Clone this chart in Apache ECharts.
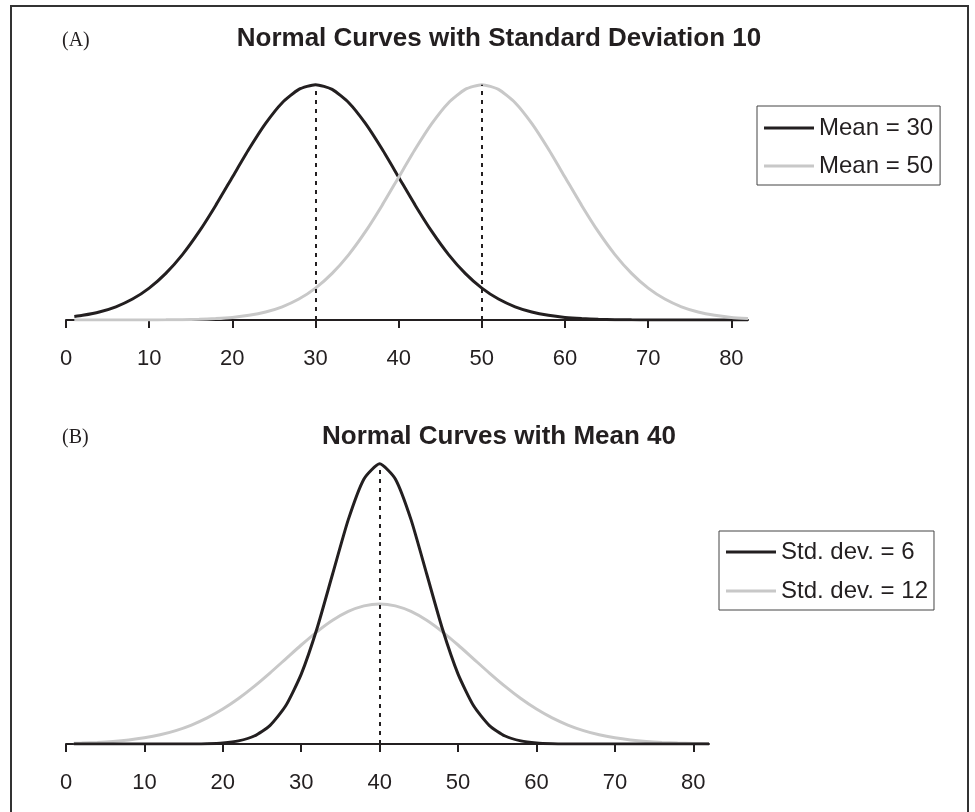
<!DOCTYPE html>
<html>
<head>
<meta charset="utf-8">
<script src="https://cdn.jsdelivr.net/npm/echarts@6/dist/echarts.min.js"></script>
<style>
  html, body { margin: 0; padding: 0; background: #fff; }
  #grafico { width: 975px; height: 812px; }
</style>
</head>
<body>
<div id="grafico"></div>
<script>
const xs = [1, 2, 4, 6, 8, 10, 12, 14, 16, 18, 20, 22, 24, 26, 28, 30, 32, 34, 36, 38, 40,
    42, 44, 46, 48, 50, 52, 54, 56, 58, 60, 62, 64, 66, 68, 70, 72, 74, 76, 78, 80, 82];

// (A) sd 10, heights x1000
const media30 = [0.60, 0.79, 1.36, 2.24, 3.55, 5.40, 7.90, 11.09, 14.97, 19.42, 24.20, 28.97, 33.32, 36.83, 39.10, 39.89,
    39.10, 36.83, 33.32, 28.97, 24.20, 19.42, 14.97, 11.09, 7.90, 5.40, 3.55, 2.24, 1.36, 0.79, 0.44, 0.24, 0.12, 0.06, 0.03, 0.01,
    0, 0, 0, 0, 0, 0];
const media50 = [0, 0, 0, 0, 0, 0.01, 0.03, 0.06, 0.12, 0.24, 0.44, 0.79, 1.36, 2.24, 3.55, 5.40, 7.90, 11.09, 14.97, 19.42,
    24.20, 28.97, 33.32, 36.83, 39.10, 39.89, 39.10, 36.83, 33.32, 28.97, 24.20, 19.42, 14.97, 11.09, 7.90, 5.40, 3.55, 2.24,
    1.36, 0.79, 0.44, 0.24];

// (B) mean 40
const desv6 = [0, 0, 0, 0, 0, 0, 0, 0, 0.02, 0.08, 0.26, 0.74, 1.90, 4.37, 9.00, 16.58, 27.34, 40.33, 53.24, 62.90, 66.49,
    62.90, 53.24, 40.33, 27.34, 16.58, 9.00, 4.37, 1.90, 0.74, 0.26, 0.08, 0.02, 0, 0, 0, 0, 0, 0, 0, 0, 0];
const desv12 = [0.17, 0.22, 0.37, 0.60, 0.95, 1.46, 2.18, 3.18, 4.50, 6.19, 8.29, 10.79, 13.67, 16.83, 20.16, 23.49, 26.62,
    29.34, 31.45, 32.78, 33.24, 32.78, 31.45, 29.34, 26.62, 23.49, 20.16, 16.83, 13.67, 10.79, 8.29, 6.19, 4.50, 3.18, 2.18,
    1.46, 0.95, 0.60, 0.37, 0.22, 0.13, 0.07];

const marcas = [0, 10, 20, 30, 40, 50, 60, 70, 80];
const mediasA = [30, 50];
const mediaB = 40;

const NEGRO = "#231f20";
const GRIS = "#c8c8c8";

function pares(valores) {
    return xs.map(function(x, i) { return [x, valores[i]]; });
}

function lineaMedia(x, y) {
    return {
        symbol: "none",
        silent: true,
        label: { show: false },
        lineStyle: { color: NEGRO, type: [4, 5], width: 2 },
        data: [[{ coord: [x, 0] }, { coord: [x, y] }]]
    };
}

function ejeX(indice) {
    return {
        type: "value",
        gridIndex: indice,
        min: 0,
        max: 82,
        interval: 10,
        axisLine: { lineStyle: { color: NEGRO, width: 2 } },
        axisTick: { show: true, length: 8, lineStyle: { color: NEGRO, width: 2 }, customValues: marcas },
        axisLabel: { color: NEGRO, fontSize: 22, fontFamily: "Liberation Sans", margin: 28, customValues: marcas },
        splitLine: { show: false }
    };
}

function ejeY(indice, maximo) {
    return { type: "value", gridIndex: indice, min: 0, max: maximo, show: false, splitLine: { show: false } };
}

const textoLeyenda = { fontSize: 24, lineHeight: 24, fontFamily: "Liberation Sans", color: NEGRO };

const grafico = echarts.init(document.getElementById("grafico"));
grafico.setOption({
    animation: false,
    backgroundColor: "#fff",
    grid: [
        { left: 66, width: 682, top: 84, height: 236 },
        { left: 66, width: 643, top: 449, height: 295 }
    ],
    xAxis: [ejeX(0), ejeX(1)],
    yAxis: [ejeY(0, 40), ejeY(1, 70)],
    legend: [
        {
            data: ["Mean = 30", "Mean = 50"],
            left: 757, top: 106, orient: "vertical",
            icon: "rect", itemWidth: 50, itemHeight: 3, itemGap: 14,
            padding: [10, 7, 7, 7],
            borderColor: "#444", borderWidth: 1,
            textStyle: textoLeyenda
        },
        {
            data: ["Std. dev. = 6", "Std. dev. = 12"],
            left: 719, top: 531, orient: "vertical",
            icon: "rect", itemWidth: 50, itemHeight: 3, itemGap: 15,
            padding: [9, 6, 7, 7],
            borderColor: "#444", borderWidth: 1,
            textStyle: textoLeyenda
        }
    ],
    series: [
        {
            name: "Mean = 30", type: "line", xAxisIndex: 0, yAxisIndex: 0,
            data: pares(media30), symbol: "none", smooth: 0.2,
            lineStyle: { color: NEGRO, width: 3 }, itemStyle: { color: NEGRO },
            markLine: lineaMedia(mediasA[0], Math.max.apply(null, media30))
        },
        {
            name: "Mean = 50", type: "line", xAxisIndex: 0, yAxisIndex: 0,
            data: pares(media50), symbol: "none", smooth: 0.2,
            lineStyle: { color: GRIS, width: 3 }, itemStyle: { color: GRIS },
            markLine: lineaMedia(mediasA[1], Math.max.apply(null, media50))
        },
        {
            name: "Std. dev. = 12", type: "line", xAxisIndex: 1, yAxisIndex: 1,
            data: pares(desv12), symbol: "none", smooth: 0.2,
            lineStyle: { color: GRIS, width: 3 }, itemStyle: { color: GRIS }
        },
        {
            name: "Std. dev. = 6", type: "line", xAxisIndex: 1, yAxisIndex: 1,
            data: pares(desv6), symbol: "none", smooth: 0.2,
            lineStyle: { color: NEGRO, width: 3 }, itemStyle: { color: NEGRO },
            markLine: lineaMedia(mediaB, Math.max.apply(null, desv6))
        }
    ],
    graphic: [
        { type: "rect", silent: true, shape: { x: 11, y: 6, width: 957, height: 830 },
          style: { fill: "none", stroke: "#333", lineWidth: 2 } },
        { type: "text", x: 62, y: 41, silent: true,
          style: { text: "(A)", font: "20px 'Liberation Serif'", fill: NEGRO, verticalAlign: "middle" } },
        { type: "text", x: 62, y: 438, silent: true,
          style: { text: "(B)", font: "20px 'Liberation Serif'", fill: NEGRO, verticalAlign: "middle" } },
        { type: "text", x: 499, y: 39, silent: true,
          style: { text: "Normal Curves with Standard Deviation 10", font: "bold 26px 'Liberation Sans'",
                   fill: NEGRO, align: "center", verticalAlign: "middle" } },
        { type: "text", x: 499, y: 437, silent: true,
          style: { text: "Normal Curves with Mean 40", font: "bold 26px 'Liberation Sans'",
                   fill: NEGRO, align: "center", verticalAlign: "middle" } }
    ]
});
</script>
</body>
</html>
